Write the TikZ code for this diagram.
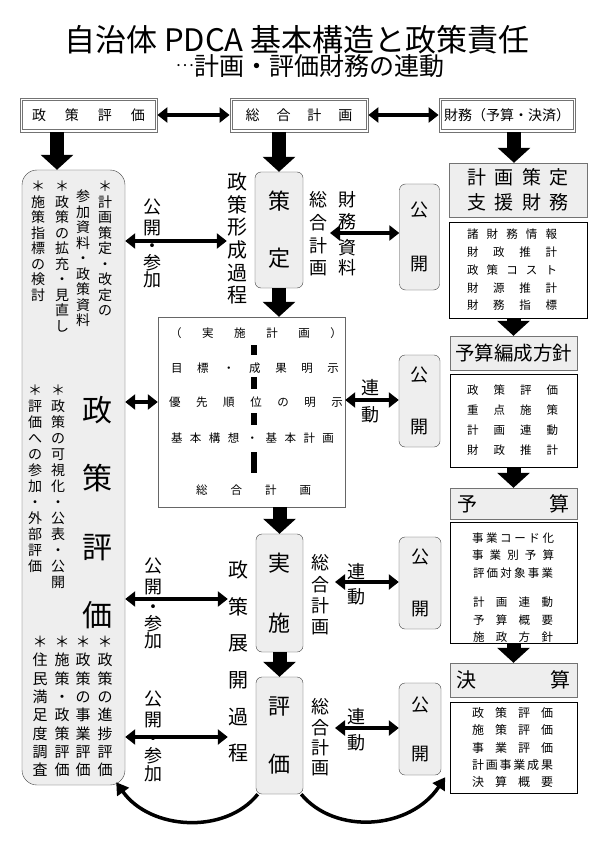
\documentclass[tikz,border=0pt]{standalone}
\usepackage{fontspec}
\setmainfont{Noto Sans CJK JP}
\usetikzlibrary{arrows.meta}
\definecolor{boxgray}{HTML}{EEEEEE}

% vertical text: one character per line
\def\tateloop#1{\ifx#1\relax\else\hbox to 1em{\hss#1\hss}\expandafter\tateloop\fi}
\newcommand\tate[2][1.1em]{\vbox{\baselineskip=#1\relax\lineskiplimit=-100pt\relax\tateloop#2\relax}}
% characters spread over a given width
\def\sploop#1{\ifx#1\relax\else#1\hfil\expandafter\sploop\fi}
\newcommand\spread[2]{\hbox to #1{\sploop#2\relax\unskip}}

\tikzset{
  fs/.style 2 args={font=\fontsize{#1}{#2}\selectfont},
  hdrbox/.style={draw=black!55, line width=0.8pt, minimum height=34pt, inner sep=0pt, fs={14}{14}},
  hdrinner/.style={draw=black!55, line width=0.8pt},
  rbox/.style={draw=black!75, fill=boxgray, rounded corners=6pt, inner sep=0pt},
  gbox/.style={draw=black!55, fill=boxgray, inner sep=0pt, minimum width=127pt},
  wbox/.style={draw=black, fill=white, inner sep=0pt, minimum width=127pt},
  vtxt/.style={inner sep=0pt, anchor=north},
  vlab/.style={inner sep=0pt, fs={18}{18}},
  blockarrow/.style={line width=14pt, -{Triangle[width=32pt,length=15pt]}},
  dblarrow/.style={line width=4pt, {Triangle[width=15pt,length=10pt]}-{Triangle[width=15pt,length=10pt]}},
  curvearrow/.style={line width=3.5pt, -{Triangle[width=14pt,length=12pt]}}
}

\begin{document}
\begin{tikzpicture}[x=1pt,y=-1pt]
\useasboundingbox[fill=white] (0,0) rectangle (595,842);

% title
\node[fs={31}{31}] (title) at (297,40) {自治体 PDCA 基本構造と政策責任};
\node[fs={25}{25}] (subtitle) at (310,66) {\raisebox{5pt}{\fontsize{13}{13}\selectfont ･･･}計画・評価財務の連動};

% header row
\node[hdrbox, minimum width=137pt] (hdrL) at (88.5,115) {\spread{113pt}{政策評価}};
\node[hdrbox, minimum width=138pt] (hdrC) at (299,115) {\spread{107pt}{総合計画}};
\node[hdrbox, minimum width=136pt] (hdrR) at (507,115) {財務（予算・決済）};
\draw[hdrinner] ([shift={(2.5pt,-2.5pt)}]hdrL.north west) rectangle ([shift={(-2.5pt,2.5pt)}]hdrL.south east);
\draw[hdrinner] ([shift={(2.5pt,-2.5pt)}]hdrC.north west) rectangle ([shift={(-2.5pt,2.5pt)}]hdrC.south east);
\draw[hdrinner] ([shift={(2.5pt,-2.5pt)}]hdrR.north west) rectangle ([shift={(-2.5pt,2.5pt)}]hdrR.south east);
\draw[dblarrow] (hdrL.east) -- (hdrC.west);
\draw[dblarrow] (hdrC.east) -- (hdrR.west);

% left panel
\node[rbox, rounded corners=15pt, minimum width=103pt, minimum height=615pt] (panel) at (73.5,477.5) {};
\node[vtxt, fs={14}{14}] (pA1) at (105,181) {\tate[15.5pt]{＊計画策定・改定の}};
\node[vtxt, fs={14}{14}] (pA2) at (83,190) {\tate[15.5pt]{参加資料・政策資料}};
\node[vtxt, fs={14}{14}] (pA3) at (62,181) {\tate[15.5pt]{＊政策の拡充・見直し}};
\node[vtxt, fs={14}{14}] (pA4) at (38,181) {\tate[15.5pt]{＊施策指標の検討}};
\node[inner sep=0pt, fs={30}{30}] (pBig) at (97,512.5) {\tate[68.3pt]{政策評価}};
\node[vtxt, fs={14}{14}] (pB1) at (58,385) {\tate[16pt]{＊政策の可視化・公表・公開}};
\node[vtxt, fs={14}{14}] (pB2) at (35,385) {\tate[16pt]{＊評価への参加・外部評価}};
\node[vtxt, fs={15}{15}] (pC1) at (105,636) {\tate[18.3pt]{＊政策の進捗評価}};
\node[vtxt, fs={15}{15}] (pC2) at (83,636) {\tate[18.3pt]{＊政策の事業評価}};
\node[vtxt, fs={15}{15}] (pC3) at (62,636) {\tate[18.3pt]{＊施策・政策評価}};
\node[vtxt, fs={15}{15}] (pC4) at (40,636) {\tate[18.3pt]{＊住民満足度調査}};
\coordinate (lArrowTop) at ([xshift=-31.5pt]hdrL.south);
\draw[blockarrow] (lArrowTop) -- (lArrowTop |- panel.north);

% plan stage
\node[inner sep=0pt, fs={20}{20}] (keisei) at (237,238.5) {\tate[22.6pt]{政策形成過程}};
\node[rbox, minimum width=48pt, minimum height=116pt, fs={22}{22}] (seitei) at (279,230) {\tate[57pt]{策定}};
\node[vlab] (sougou1) at (318,234) {\tate[22.7pt]{総合計画}};
\node[vlab] (zaimuA) at (347,211) {\tate[22pt]{財務}};
\node[vlab] (zaimuB) at (347,257.5) {\tate[20pt]{資料}};
\node[rbox, minimum width=40pt, minimum height=106pt, fs={18}{18}] (kokai1) at (419.5,237) {\tate[54pt]{公開}};
\coordinate (z1) at (330,233);
\draw[dblarrow] (z1) -- (kokai1.west |- z1);
\node[vlab] (ksA1) at (152,217) {\tate[21pt]{公開}};
\node[vlab] (ksB1) at (152,266) {\tate[17pt]{・参加}};
\coordinate (k1) at (0,241);
\draw[dblarrow] (panel.east |- k1) -- (keisei.west |- k1);
\draw[blockarrow] (seitei.north |- hdrC.south) -- (seitei.north);

% action plan box
\node[draw=black!60, fill=white, inner sep=0pt, minimum width=187pt, minimum height=190pt] (kbox) at (251.5,412) {};
\node[fs={11.5}{11.5}] (jk1) at (256,333) {\spread{172pt}{（実施計画）}};
\node[fs={11.5}{11.5}] (jk2) at (255,368) {\spread{168pt}{目標・成果明示}};
\node[fs={11.5}{11.5}] (yusen) at (256,402) {\spread{174pt}{優先順位の明示}};
\node[fs={11.5}{11.5}] (jk4) at (252.5,438) {\spread{163pt}{基本構想・基本計画}};
\node[fs={11.5}{11.5}] (jk5) at (253.5,490) {\spread{115pt}{総合計画}};
\fill (251,345) rectangle (257,355);
\fill (251,377) rectangle (257,389);
\fill (251,413) rectangle (257,425);
\fill (251,452) rectangle (257,473);
\draw[blockarrow] (seitei.south) -- (seitei.south |- kbox.north);
\draw[dblarrow] (panel.east |- yusen) -- (kbox.west |- yusen);
\node[vlab] (rendo1) at (370,401.5) {\tate[27pt]{連動}};
\node[rbox, minimum width=41pt, minimum height=92pt, fs={18}{18}] (kokai2) at (419.5,401) {\tate[52pt]{公開}};
\coordinate (r1) at (0,400);
\draw[dblarrow] (kbox.east |- r1) -- (kokai2.west |- r1);

% do stage
\node[rbox, minimum width=47pt, minimum height=118pt, fs={22}{22}] (jisshi) at (279.5,593) {\tate[60pt]{実施}};
\node[inner sep=0pt, fs={20}{20}] (tenkai) at (238,661.5) {\tate[36.6pt]{政策展開過程}};
\node[vlab] (sougou2) at (320,595) {\tate[21.3pt]{総合計画}};
\node[vlab] (rendo2) at (356,584.5) {\tate[25pt]{連動}};
\node[rbox, minimum width=42pt, minimum height=92pt, fs={18}{18}] (kokai3) at (420,583) {\tate[52pt]{公開}};
\coordinate (r2) at (335,582);
\draw[dblarrow] (r2) -- (kokai3.west |- r2);
\node[vlab] (ksA2) at (153,576) {\tate[21pt]{公開}};
\node[vlab] (ksB2) at (153,627) {\tate[17pt]{・参加}};
\coordinate (k2) at (0,599);
\draw[dblarrow] (panel.east |- k2) -- (tenkai.west |- k2);
\draw[blockarrow] (jisshi.north |- kbox.south) -- (jisshi.north);

% check stage
\node[rbox, minimum width=47pt, minimum height=117pt, fs={22}{22}] (hyoka) at (279.5,735.5) {\tate[58pt]{評価}};
\node[vlab] (sougou3) at (320,737.5) {\tate[20.3pt]{総合計画}};
\node[vlab] (rendo3) at (356,730) {\tate[26pt]{連動}};
\node[rbox, minimum width=42pt, minimum height=92pt, fs={18}{18}] (kokai4) at (420,729) {\tate[49pt]{公開}};
\coordinate (r3) at (335,728);
\draw[dblarrow] (r3) -- (kokai4.west |- r3);
\node[vlab] (ksA3) at (153,709) {\tate[21pt]{公開}};
\node[vlab] (ksB3) at (153,759) {\tate[17.5pt]{・参加}};
\coordinate (k3) at (0,737);
\draw[dblarrow] (panel.east |- k3) -- (tenkai.west |- k3);
\draw[blockarrow] (jisshi.south) -- (hyoka.north);
\draw[curvearrow] ([xshift=2pt]hyoka.south west) .. controls (225,835) and (150,830) .. ([shift={(-9pt,3pt)}]panel.south east);
\draw[curvearrow] ([xshift=-2pt]hyoka.south east) .. controls (335,835) and (410,830) .. ([shift={(4pt,-2pt)}]kokai4.south east);

% finance column
\node[gbox, minimum width=138pt, minimum height=54pt, align=center, fs={19}{19}] (shien) at (518,190) {\spread{101pt}{計画策定}\\[6pt]\spread{101pt}{支援財務}};
\coordinate (rArrowTop) at ([xshift=7pt]hdrR.south);
\draw[blockarrow] (rArrowTop) -- (rArrowTop |- shien.north);
\node[wbox, minimum width=138pt, minimum height=96pt] (shienD) at (518,270) {};
\node[align=center, inner sep=0pt, fs={11.5}{17.75}] (shienDt) at (512,270) {\spread{90pt}{諸財務情報}\\\spread{90pt}{財政推計}\\\spread{90pt}{政策コスト}\\\spread{90pt}{財源推計}\\\spread{90pt}{財務指標}};

\node[gbox, minimum height=34pt, fs={19.5}{19.5}] (hoshin) at (513.5,353) {予算編成方針};
\draw[blockarrow] (hoshin.north |- shienD.south) -- (hoshin.north);
\node[wbox, minimum height=93pt] (hoshinD) at (513.5,420.5) {};
\node[align=center, inner sep=0pt, fs={11.5}{20}] (hoshinDt) at (512.5,420) {\spread{91pt}{政策評価}\\\spread{91pt}{重点施策}\\\spread{91pt}{計画連動}\\\spread{91pt}{財政推計}};

\node[gbox, minimum height=31pt, fs={20}{20}] (yosan) at (513.5,503.5) {\spread{112pt}{予算}};
\draw[blockarrow] (hoshinD.south) -- (yosan.north);
\node[wbox, minimum height=121pt] (yosanD) at (513.5,582.5) {};
\node[align=center, inner sep=0pt, fs={11.5}{17.5}] (yosanDt) at (513,587.5) {\spread{82pt}{事業コード化}\\\spread{82pt}{事業別予算}\\\spread{80pt}{評価対象事業}\\[12pt]\spread{80pt}{計画連動}\\\spread{80pt}{予算概要}\\\spread{80pt}{施政方針}};

\node[gbox, minimum height=34pt, fs={20}{20}] (kessan) at (513.5,680) {\spread{114pt}{決算}};
\draw[blockarrow] (yosanD.south) -- (kessan.north);
\node[wbox, minimum height=91pt] (kessanD) at (513.5,747.5) {};
\node[align=center, inner sep=0pt, fs={12}{17.25}] (kessanDt) at (512.5,747.5) {\spread{81pt}{政策評価}\\\spread{81pt}{施策評価}\\\spread{81pt}{事業評価}\\\spread{81pt}{計画事業成果}\\\spread{81pt}{決算概要}};
\end{tikzpicture}
\end{document}
